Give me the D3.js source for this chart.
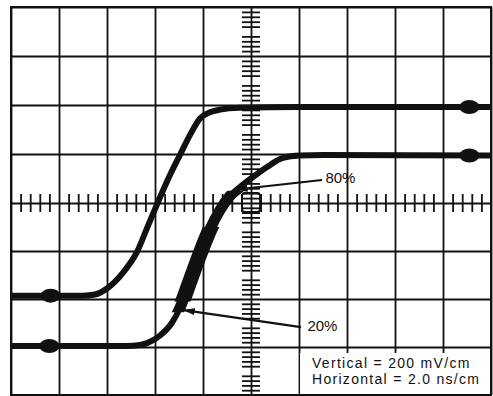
<!DOCTYPE html>
<html>
<head>
<meta charset="utf-8">
<script src="https://cdn.jsdelivr.net/npm/d3@7"></script>
<style>
  html, body { margin: 0; padding: 0; background: #fff; }
  svg { display: block; }
  text { font-family: "Liberation Sans", Arial, Helvetica, sans-serif; fill: #111; }
</style>
</head>
<body>
<div id="scope"></div>
<script>
// time in ns (2.0 ns/cm), amplitude in mV (200 mV/cm)
const gridTimes = d3.range(-10, 10.01, 2);
const gridVolts = d3.range(-800, 800.1, 200);

// faster pulse (left edge)
const trace1 = [
  [-10, -386], [-7.0, -386], [-6.5, -381], [-6.0, -356], [-5.33, -290],
  [-4.75, -204], [-4.29, -94], [-3.875, 4], [-3.375, 114], [-2.96, 196],
  [-2.54, 278], [-2.125, 345], [-1.71, 370], [-1.29, 381], [-0.5, 389],
  [2, 392], [10, 392]
];

// measured pulse (thick, jittery between 20% and 80%)
const trace2 = [
  [-10, -596], [-5.2, -596], [-4.63, -592], [-4.33, -584], [-3.79, -552],
  [-3.3, -500], [-2.96, -437], [-2.54, -325], [-2.125, -212], [-1.71, -110],
  [-1.29, -29], [-0.875, 29], [-0.46, 65], [0.08, 106], [0.67, 147],
  [1.33, 184], [2.04, 194], [3, 196], [10, 194]
];

// amplitude ranges where the measured edge smears (mV)
const jitterBands = [[-455, 50], [-410, -100]];

// trace end dots
const blobs1 = [[-8.35, -386], [9.1, 392]];
const blobs2 = [[-8.4, -596], [9.1, 194]];

// annotations: label, label anchor (ns, mV), arrow tip (ns, mV)
const notes = [
  { text: "80%", from: [2.96, 94], label: [3.1, 82], tip: [-0.6, 55] },
  { text: "20%", from: [2.08, -517], label: [2.35, -533], tip: [-2.8, -446] }
];

const legendLines = ["Vertical = 200 mV/cm", "Horizontal = 2.0 ns/cm"];

const width = 493, height = 396;
const x = d3.scaleLinear().domain([-10, 10]).range([11, 491]);
// the photographed graticule is a little taller in the upper half
const y = d3.scaleLinear().domain([-800, 0, 800]).range([395, 203, 7]);

const svg = d3.select("#scope").append("svg")
  .attr("width", width)
  .attr("height", height);

const defs = svg.append("defs");
defs.append("clipPath").attr("id", "screen")
  .append("rect")
  .attr("x", x(-10)).attr("y", y(800))
  .attr("width", x(10) - x(-10)).attr("height", y(-800) - y(800));

jitterBands.forEach(([v0, v1], i) => {
  defs.append("clipPath").attr("id", "band" + i)
    .append("rect")
    .attr("x", x(-4)).attr("y", y(v1))
    .attr("width", x(0) - x(-4)).attr("height", y(v0) - y(v1));
});

defs.append("marker")
  .attr("id", "arrow")
  .attr("markerUnits", "userSpaceOnUse")
  .attr("viewBox", "0 0 12 8")
  .attr("refX", 11).attr("refY", 4)
  .attr("markerWidth", 12).attr("markerHeight", 8)
  .attr("orient", "auto")
  .append("path")
  .attr("d", "M0,0.5 L12,4 L0,7.5 Z")
  .attr("fill", "#111");

// graticule grid
const gridX = svg.append("g")
  .attr("transform", `translate(0,${y(-800)})`)
  .call(d3.axisBottom(x).tickValues(gridTimes).tickSize(-(y(-800) - y(800))).tickFormat(""));
const gridY = svg.append("g")
  .attr("transform", `translate(${x(-10)},0)`)
  .call(d3.axisLeft(y).tickValues(gridVolts).tickSize(-(x(10) - x(-10))).tickFormat(""));
[gridX, gridY].forEach(g => {
  g.select(".domain").remove();
  g.selectAll("line").attr("stroke", "#111").attr("stroke-width", 1.8);
});

// minor ticks on the centre lines (0.2 cm apart)
const minorT = d3.range(-24, 25).filter(i => i % 5 !== 0).map(i => i * 0.4);
const minorV = d3.range(-39, 40).filter(i => i % 5 !== 0).map(i => i * 20);
const minorAxes = [
  svg.append("g").attr("transform", `translate(0,${y(0)})`)
    .call(d3.axisBottom(x).tickValues(minorT).tickSizeInner(9).tickSizeOuter(0).tickFormat("")),
  svg.append("g").attr("transform", `translate(0,${y(0)})`)
    .call(d3.axisTop(x).tickValues(minorT).tickSizeInner(9).tickSizeOuter(0).tickFormat("")),
  svg.append("g").attr("transform", `translate(${x(0)},0)`)
    .call(d3.axisLeft(y).tickValues(minorV).tickSizeInner(9).tickSizeOuter(0).tickFormat("")),
  svg.append("g").attr("transform", `translate(${x(0)},0)`)
    .call(d3.axisRight(y).tickValues(minorV).tickSizeInner(9).tickSizeOuter(0).tickFormat(""))
];
minorAxes.forEach(g => {
  g.select(".domain").remove();
  g.selectAll("line").attr("stroke", "#111").attr("stroke-width", 1.8);
});

// small centre square
svg.append("rect")
  .attr("x", x(0) - 9).attr("y", y(0) - 10)
  .attr("width", 18).attr("height", 19)
  .attr("rx", 3)
  .attr("fill", "none")
  .attr("stroke", "#111")
  .attr("stroke-width", 1.8);

// legend panel hides the grid behind it
svg.append("rect")
  .attr("x", 300).attr("y", 353)
  .attr("width", 190).attr("height", 41)
  .attr("fill", "#fff");

svg.append("rect")
  .attr("x", x(-10)).attr("y", y(800))
  .attr("width", x(10) - x(-10)).attr("height", y(-800) - y(800))
  .attr("fill", "none")
  .attr("stroke", "#111")
  .attr("stroke-width", 2);

// traces
const line = d3.line()
  .x(d => x(d[0]))
  .y(d => y(d[1]))
  .curve(d3.curveMonotoneX);

const traces = svg.append("g").attr("clip-path", "url(#screen)");

[trace1, trace2].forEach(tr => {
  traces.append("path")
    .datum(tr)
    .attr("d", line)
    .attr("fill", "none")
    .attr("stroke", "#111")
    .attr("stroke-width", 6)
    .attr("stroke-linecap", "round");
});

// smeared part of the measured edge
[11, 15].forEach((w, i) => {
  traces.append("path")
    .datum(trace2)
    .attr("d", line)
    .attr("clip-path", `url(#band${i})`)
    .attr("fill", "none")
    .attr("stroke", "#111")
    .attr("stroke-width", w);
});

traces.selectAll("ellipse")
  .data(blobs1.concat(blobs2))
  .enter()
  .append("ellipse")
  .attr("cx", d => x(d[0]))
  .attr("cy", d => y(d[1]))
  .attr("rx", 10)
  .attr("ry", 7)
  .attr("fill", "#111");

// 20% / 80% arrows
const ann = svg.append("g");
ann.selectAll("line")
  .data(notes)
  .enter()
  .append("line")
  .attr("x1", d => x(d.from[0])).attr("y1", d => y(d.from[1]))
  .attr("x2", d => x(d.tip[0])).attr("y2", d => y(d.tip[1]))
  .attr("stroke", "#111")
  .attr("stroke-width", 2.2)
  .attr("marker-end", "url(#arrow)");

ann.selectAll("text")
  .data(notes)
  .enter()
  .append("text")
  .attr("x", d => x(d.label[0]))
  .attr("y", d => y(d.label[1]))
  .attr("font-size", 15)
  .text(d => d.text);

svg.append("g").selectAll("text")
  .data(legendLines)
  .enter()
  .append("text")
  .attr("x", 312)
  .attr("y", (d, i) => 368 + i * 16)
  .attr("font-size", 14)
  .attr("letter-spacing", 1.3)
  .text(d => d);
</script>
</body>
</html>
